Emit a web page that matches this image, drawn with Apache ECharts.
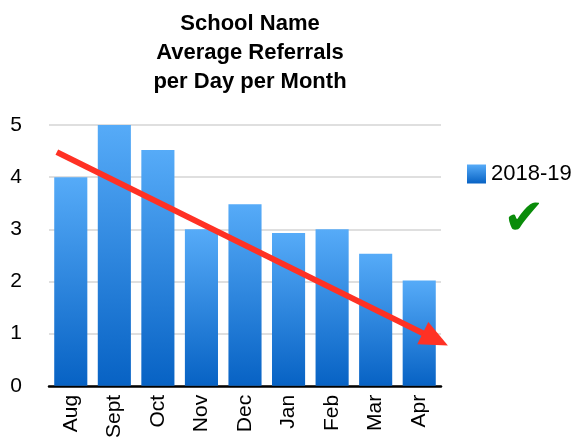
<!DOCTYPE html>
<html lang="en">
<head>
    <meta charset="UTF-8">
    <title>Average Referrals per Day per Month</title>
    <script src="https://cdn.jsdelivr.net/npm/echarts@6.0.0/dist/echarts.min.js"></script>
    <style>
        html, body { margin: 0; padding: 0; background: #fff; }
        #chart { width: 587px; height: 441px; }
    </style>
</head>
<body>
    <div id="chart"></div>
    <script>
        // data
        const months = ['Aug', 'Sept', 'Oct', 'Nov', 'Dec', 'Jan', 'Feb', 'Mar', 'Apr'];
        const referrals = [4.0, 5.0, 4.52, 3.0, 3.48, 2.93, 3.0, 2.53, 2.02];
        const yTicks = [0, 1, 2, 3, 4, 5];
        // trend arrow, in (category position, value) units; end = middle of the arrow head
        const trendStart = [0.18, 4.48];
        const trendEnd = [8.87, 0.89];

        const font = '"Liberation Sans", Arial, Helvetica, sans-serif';
        const red = '#ff3124';
        const headSize = [25, 28];

        const chart = echarts.init(document.getElementById('chart'));

        function trendSeries(rotate) {
            return {
                name: 'trend',
                type: 'line',
                xAxisIndex: 1,
                yAxisIndex: 0,
                data: [
                    { value: trendStart, symbol: 'none' },
                    { value: trendEnd, symbol: 'triangle', symbolSize: headSize, symbolRotate: rotate }
                ],
                showAllSymbol: true,
                clip: false,
                silent: true,
                lineStyle: { color: red, width: 6 },
                itemStyle: { color: red, borderWidth: 0 },
                z: 5
            };
        }

        chart.setOption({
            animation: false,
            title: {
                text: 'School Name\nAverage Referrals\nper Day per Month',
                left: 245,
                top: 4,
                textAlign: 'center',
                textStyle: { fontFamily: font, fontSize: 22, fontWeight: 'bold', color: '#000', lineHeight: 29 }
            },
            legend: {
                data: [{ name: '2018-19', icon: 'rect' }],
                left: 462,
                top: 158,
                itemWidth: 19,
                itemHeight: 19,
                itemGap: 10,
                textStyle: { fontFamily: font, fontSize: 22, color: '#000' }
            },
            grid: { left: 49, right: 146, top: 125, bottom: 55 },
            xAxis: [{
                type: 'category',
                data: months,
                axisLine: { lineStyle: { color: '#000', width: 2.5 } },
                axisTick: { show: false },
                axisLabel: { rotate: 90, margin: 9, fontFamily: font, fontSize: 21, color: '#000' }
            }, {
                type: 'value', min: 0, max: months.length, position: 'top',
                axisLine: { show: false }, axisTick: { show: false },
                axisLabel: { show: false }, splitLine: { show: false }
            }],
            yAxis: {
                type: 'value',
                min: yTicks[0],
                max: yTicks[yTicks.length - 1],
                interval: 1,
                axisLine: { show: false },
                axisTick: { show: false },
                axisLabel: { margin: 27, fontFamily: font, fontSize: 21, color: '#000' },
                splitLine: { lineStyle: { color: '#d4d4d4', width: 1.5 } }
            },
            series: [{
                name: '2018-19',
                type: 'bar',
                data: referrals,
                barCategoryGap: '24%',
                itemStyle: {
                    color: new echarts.graphic.LinearGradient(0, 0, 0, 1, [
                        { offset: 0, color: '#56abf8' },
                        { offset: 1, color: '#0762c4' }
                    ])
                }
            }, trendSeries(0)],
            graphic: [{
                type: 'text',
                left: 503,
                top: 196,
                style: { text: '\u2714', fontFamily: '"DejaVu Sans"', fontSize: 50, fill: '#0a8c0a' }
            }]
        });

        // turn the arrow head along the line, using the chart's own scales
        const finder = { xAxisIndex: 1, yAxisIndex: 0 };
        const p0 = chart.convertToPixel(finder, trendStart);
        const p1 = chart.convertToPixel(finder, trendEnd);
        const angle = Math.atan2(-(p1[1] - p0[1]), p1[0] - p0[0]) * 180 / Math.PI;
        chart.setOption({ series: [{}, trendSeries(angle - 90)] });
    </script>
</body>
</html>
